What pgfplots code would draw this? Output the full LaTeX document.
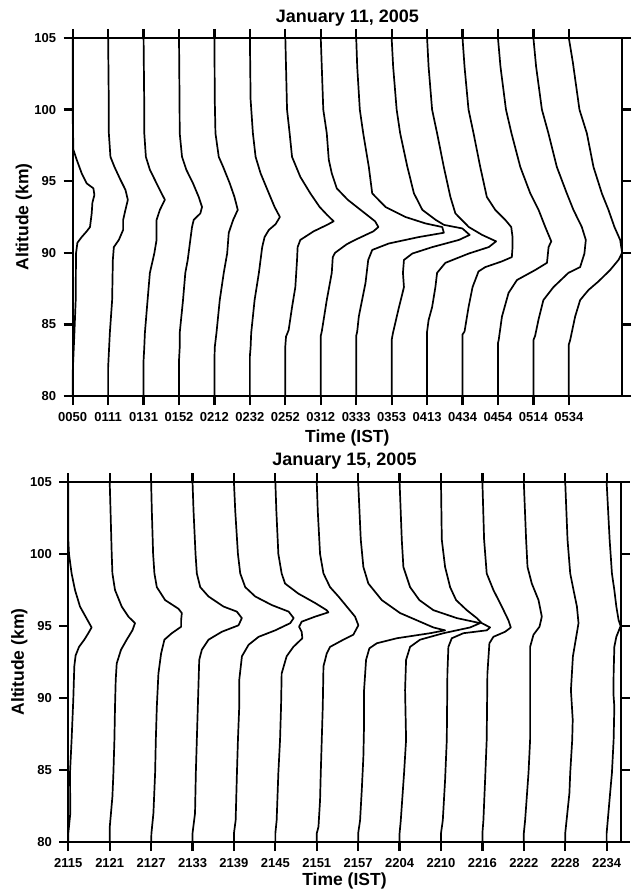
\documentclass[border=0pt]{standalone}
\usepackage{fontspec}
\setmainfont{Liberation Sans}
\usepackage{pgfplots}
\pgfplotsset{compat=1.18}
\def\sa{35.43}
\def\sb{41.4}
\pgfplotsset{
  prof/.style={black, line width=1.7pt, line join=round, mark=none},
  panel/.style={
    scale only axis, anchor=south west,
    ymin=80, ymax=105, ytick={80,85,...,105},
    tick align=outside, major tick length=9pt,
    xtick pos=both, ytick pos=both, xticklabel pos=lower, yticklabel pos=left,
    axis line style={line width=2.2pt},
    tick style={black, line width=2.2pt},
    tick label style={font=\bfseries\fontsize{13}{15}\selectfont},
    xticklabel style={inner sep=1pt, yshift=-6pt},
    yticklabel style={xshift=-4pt},
    /pgf/number format/assume math mode=true,
    label style={font=\bfseries\fontsize{17.5}{20}\selectfont, inner sep=1pt},
    title style={font=\bfseries\fontsize{18}{20}\selectfont, anchor=center, yshift=-6pt, inner sep=1pt},
    clip=false,
  }
}
\begin{document}
\begin{tikzpicture}
\path[use as bounding box] (0,0) rectangle (636pt,-893pt);
% ---------------- January 11, 2005 ----------------
\begin{axis}[panel, at={(72.7pt,-396pt)}, width=549.3pt, height=358pt,
  xmin=0, xmax=15.5, xtick={0,...,14},
  xticklabels={0050,0111,0131,0152,0212,0232,0252,0312,0333,0353,0413,0434,0454,0514,0534},
  title={January 11, 2005}, title style={at={(axis description cs:0.5,1.0545)}},
  xlabel={Time (IST)}, xlabel style={at={(axis description cs:0.5,-0.117)}, anchor=center},
  ylabel={Altitude (km)}, ylabel style={at={(axis description cs:-0.089,0.5)}, anchor=center},
]
\addplot[prof] table[header=false,row sep=\\,x expr=\thisrowno{0}/\sa+0,y index=1]{
0 80\\ 0 81.6\\ 1.7 84.4\\ 3 86.7\\ 3.3 89.95\\ 4.7 90.7\\ 9 91.1\\ 14 91.5\\ 17.3 91.8\\ 19 92.75\\ 19.7 93.5\\ 21.7 94.04\\ 20.7 94.5\\ 14 94.85\\ 9 95.55\\ 4 96.5\\ 0.7 97.2\\ 0 99.5\\ 0 105\\};
\addplot[prof] table[header=false,row sep=\\,x expr=\thisrowno{0}/\sa+1,y index=1]{
0 80\\ 0 82\\ 0.7 83\\ 1.7 84.4\\ 4 86.7\\ 4.7 89.5\\ 5.7 90.4\\ 10.7 90.9\\ 15 91.6\\ 15 92.3\\ 17.3 93.0\\ 19.7 93.7\\ 17.3 94.4\\ 12.3 95.1\\ 6.3 96.0\\ 2.3 96.7\\ 0.7 98.35\\ 0.7 100\\ 0 105\\};
\addplot[prof] table[header=false,row sep=\\,x expr=\thisrowno{0}/\sa+2,y index=1]{
0 80\\ 0 82.5\\ 0.7 83.4\\ 1.3 84.4\\ 4 86.7\\ 6.3 88.6\\ 10.7 89.95\\ 13 90.9\\ 13 92.3\\ 16.3 93.0\\ 21.3 93.7\\ 18 94.15\\ 13 94.85\\ 6.3 95.8\\ 2.3 96.7\\ 0.7 98.35\\ 0.7 100\\ 0 105\\};
\addplot[prof] table[header=false,row sep=\\,x expr=\thisrowno{0}/\sa+3,y index=1]{
0 80\\ 0 82.5\\ 0.7 83.4\\ 0.7 84.4\\ 4 86.7\\ 6.3 88.6\\ 8.7 89.5\\ 11.3 90.9\\ 13 91.8\\ 14.7 92.3\\ 21.3 92.75\\ 23 93.2\\ 19.7 93.9\\ 14 94.85\\ 7.3 95.8\\ 3 96.7\\ 0.7 98.35\\ 0.5 100.7\\ 0 105\\};
\addplot[prof] table[header=false,row sep=\\,x expr=\thisrowno{0}/\sa+4,y index=1]{
0 80\\ 0 82.5\\ 0.3 83.4\\ 2 84.4\\ 5.3 86.7\\ 9.3 88.6\\ 12.7 89.95\\ 14.3 91.4\\ 18.7 92.3\\ 23.3 93.0\\ 20 93.9\\ 15.3 94.85\\ 8.7 96.0\\ 4.3 96.7\\ 1 98.35\\ 0.3 100.7\\ 0 105\\};
\addplot[prof] table[header=false,row sep=\\,x expr=\thisrowno{0}/\sa+5,y index=1]{
0 80\\ 0 82.8\\ 0.7 83.4\\ 1.3 84.4\\ 3 85.55\\ 4.7 86.7\\ 9 88.6\\ 12.3 90.4\\ 14.7 91.1\\ 19 91.6\\ 25.7 92.0\\ 30 92.5\\ 24.7 93.2\\ 19 94.15\\ 10.7 95.55\\ 5.7 96.7\\ 3 98.35\\ 0.7 100.7\\ 0 105\\};
\addplot[prof] table[header=false,row sep=\\,x expr=\thisrowno{0}/\sa+6,y index=1]{
0 80\\ 0 83.5\\ 0.7 84.15\\ 3.3 84.6\\ 6.7 86.2\\ 10 87.6\\ 11.7 89.5\\ 12.3 90.4\\ 15 90.9\\ 28.3 91.5\\ 41.7 91.95\\ 48.3 92.2\\ 41.7 92.65\\ 34.3 93.2\\ 25 94.15\\ 15 95.3\\ 6.7 96.7\\ 4.3 98.35\\ 1.7 100\\ 0 105\\};
\addplot[prof] table[header=false,row sep=\\,x expr=\thisrowno{0}/\sa+7,y index=1]{
0 80\\ 0 84.2\\ 1 84.5\\ 6 86.7\\ 11 88.6\\ 12 89.7\\ 14.3 90.0\\ 26 90.6\\ 34.3 90.9\\ 52.6 91.5\\ 57.6 91.8\\ 54.3 92.2\\ 44.3 92.75\\ 27 93.7\\ 16 94.5\\ 11 95.55\\ 8 96.5\\ 6 98.35\\ 2.5 100\\ 0 105\\};
\addplot[prof] table[header=false,row sep=\\,x expr=\thisrowno{0}/\sa+8,y index=1]{
0 80\\ 0 84.2\\ 1 84.5\\ 2.6 85.55\\ 9.3 87.9\\ 12 89.5\\ 16 90.2\\ 32.6 90.65\\ 62.6 91.1\\ 87.6 91.4\\ 86 91.8\\ 69.3 92.05\\ 49.3 92.5\\ 29.3 93.2\\ 16 94.15\\ 12.6 96.0\\ 7 98.35\\ 3.6 100\\ 1 103\\ 0 105\\};
\addplot[prof] table[header=false,row sep=\\,x expr=\thisrowno{0}/\sa+9,y index=1]{
0 80\\ 0 83.9\\ 1.3 84.4\\ 7.3 86.2\\ 12.3 87.6\\ 11.3 88.6\\ 12.3 89.5\\ 20.7 89.95\\ 40.7 90.4\\ 67.3 90.9\\ 78 91.25\\ 70.7 91.7\\ 52.3 91.95\\ 44 92.3\\ 30.7 93.0\\ 22.3 94.15\\ 15.7 96.0\\ 8.5 98.35\\ 5 100\\ 1.5 103\\ 0 105\\};
\addplot[prof] table[header=false,row sep=\\,x expr=\thisrowno{0}/\sa+10,y index=1]{
0 80\\ 0 84.5\\ 1.5 85.3\\ 5 86.2\\ 8.3 87.6\\ 10 88.6\\ 18.3 89.3\\ 41.7 89.95\\ 61.7 90.4\\ 69 90.8\\ 55 91.25\\ 41.7 91.8\\ 28.3 92.75\\ 23.3 93.9\\ 16.7 96.0\\ 10 98.35\\ 5 100\\ 1.5 103\\ 0 105\\};
\addplot[prof] table[header=false,row sep=\\,x expr=\thisrowno{0}/\sa+11,y index=1]{
0 80\\ 0 84.3\\ 2 84.5\\ 6 86.2\\ 10 87.6\\ 16 88.7\\ 22.7 89.0\\ 39.3 89.4\\ 49.3 89.7\\ 50 90.4\\ 50 91.1\\ 48.7 91.8\\ 42.7 92.3\\ 32.7 93.0\\ 24.3 93.9\\ 17.7 96.0\\ 11 98.35\\ 6 100\\ 2 103\\ 0 105\\};
\addplot[prof] table[header=false,row sep=\\,x expr=\thisrowno{0}/\sa+12,y index=1]{
0 80\\ 0 83.7\\ 0.7 83.9\\ 4 85.55\\ 10.6 87.2\\ 19 88.1\\ 37.3 88.8\\ 49 89.3\\ 50.6 90.4\\ 53.3 90.8\\ 47.3 91.8\\ 40.6 93.0\\ 32.3 94.15\\ 22.3 96.0\\ 13.5 98.35\\ 8 100\\ 2.5 103\\ 0 105\\};
\addplot[prof] table[header=false,row sep=\\,x expr=\thisrowno{0}/\sa+13,y index=1]{
0 80\\ 0 83.9\\ 1.7 84.2\\ 5 85.3\\ 10 86.7\\ 20 87.6\\ 35 88.6\\ 46.7 89.0\\ 51 89.95\\ 52.4 90.9\\ 48.4 91.8\\ 40 93.0\\ 33.4 94.15\\ 23.4 96.0\\ 15 98.35\\ 8.5 100\\ 2.7 103\\ 0 105\\};
\addplot[prof] table[header=false,row sep=\\,x expr=\thisrowno{0}/\sa+14,y index=1]{
0 80\\ 0 83.6\\ 1.3 83.9\\ 6.3 85.55\\ 11.3 86.7\\ 19.6 87.4\\ 29.6 88.0\\ 41.3 88.8\\ 49.6 89.5\\ 53.3 90.0\\ 51.3 90.9\\ 45.6 91.8\\ 39.6 93.0\\ 33 94.15\\ 24.6 96.0\\ 18 98.35\\ 10.6 100\\ 4 103.3\\ 0 105\\};
\end{axis}
% ---------------- January 15, 2005 ----------------
\begin{axis}[panel, at={(68.3pt,-842pt)}, width=552.4pt, height=360pt,
  xmin=0, xmax=13.34, xtick={0,...,13},
  xticklabels={2115,2121,2127,2133,2139,2145,2151,2157,2204,2210,2216,2222,2228,2234},
  title={January 15, 2005}, title style={at={(axis description cs:0.5,1.0583)}},
  xlabel={Time (IST)}, xlabel style={at={(axis description cs:0.5,-0.1086)}, anchor=center},
  ylabel={Altitude (km)}, ylabel style={at={(axis description cs:-0.0887,0.5)}, anchor=center},
]
\addplot[prof] table[header=false,row sep=\\,x expr=\thisrowno{0}/\sb+0,y index=1]{
0 80\\ 0 80.6\\ 2 82\\ 1.7 84.8\\ 3.3 87.1\\ 5 89.9\\ 6 92.2\\ 7.3 92.95\\ 10.7 93.55\\ 16 94.05\\ 20 94.5\\ 23.3 94.9\\ 19.3 95.4\\ 11.7 96.35\\ 6.7 97.5\\ 3.3 98.65\\ 0.7 100\\ 0 101\\ 0 105\\};
\addplot[prof] table[header=false,row sep=\\,x expr=\thisrowno{0}/\sb+1,y index=1]{
0 80\\ 0 81\\ 2.7 83.15\\ 3.7 84.8\\ 4.7 87.1\\ 5.3 89.4\\ 6 91.25\\ 7 92.4\\ 11.3 93.35\\ 17 94.05\\ 22.7 94.7\\ 25.3 95.2\\ 18.7 95.65\\ 12 96.35\\ 5.3 97.5\\ 2.7 98.65\\ 2 100\\ 0.7 103.3\\ 0 105\\};
\addplot[prof] table[header=false,row sep=\\,x expr=\thisrowno{0}/\sb+2,y index=1]{
0 80\\ 0.3 80.6\\ 2.3 82\\ 4 84.8\\ 4.7 87.1\\ 5.7 89.4\\ 7.3 91.7\\ 10 93.1\\ 13.3 94.05\\ 20.7 94.5\\ 30 94.95\\ 30 95.4\\ 30.7 95.9\\ 27.3 96.2\\ 14 96.8\\ 5.7 97.7\\ 3.3 98.65\\ 2 100\\ 0.7 103\\ 0 105\\};
\addplot[prof] table[header=false,row sep=\\,x expr=\thisrowno{0}/\sb+3,y index=1]{
0 80\\ 0 80.6\\ 2.5 82\\ 3.3 84.8\\ 4.3 87.1\\ 5.3 89.4\\ 6.7 92.65\\ 9.3 93.35\\ 16 94.05\\ 29.3 94.6\\ 46 95.05\\ 49.3 95.55\\ 44.3 96.0\\ 31 96.35\\ 16 97.05\\ 7.7 97.7\\ 4.3 98.65\\ 3 100\\ 1 103\\ 0 105\\};
\addplot[prof] table[header=false,row sep=\\,x expr=\thisrowno{0}/\sb+4,y index=1]{
0 80\\ 0 80.6\\ 1.7 81.5\\ 3 84.8\\ 4 87.1\\ 5.3 89.4\\ 5.3 91.25\\ 8 92.9\\ 14.7 93.7\\ 24.7 94.25\\ 41.3 94.7\\ 56.3 95.2\\ 59.7 95.55\\ 54.7 96.0\\ 38 96.45\\ 21.3 97.05\\ 11.3 97.7\\ 6.3 98.65\\ 4 100\\ 1.3 103\\ 0 105\\};
\addplot[prof] table[header=false,row sep=\\,x expr=\thisrowno{0}/\sb+5,y index=1]{
0 80\\ 0 80.6\\ 1.3 81.5\\ 3 84.8\\ 4.7 87.1\\ 5.7 89.4\\ 6.3 91.7\\ 11.3 92.9\\ 18 93.55\\ 27 94.15\\ 26.3 94.6\\ 23.7 94.95\\ 26.3 95.3\\ 39.7 95.65\\ 53 95.95\\ 51.3 96.1\\ 39.7 96.6\\ 23 97.25\\ 9.7 97.95\\ 6.3 98.65\\ 3 100\\ 1 103\\ 0 105\\};
\addplot[prof] table[header=false,row sep=\\,x expr=\thisrowno{0}/\sb+6,y index=1]{
0 80\\ 0 80.6\\ 1.7 81.05\\ 3.3 82.9\\ 4 84.8\\ 5 87.1\\ 6 89.4\\ 6.7 92.2\\ 10 93.1\\ 13.3 93.55\\ 26.6 94.05\\ 36.6 94.4\\ 41.6 95.05\\ 38.3 95.65\\ 30 96.35\\ 21.7 97.05\\ 13.3 97.7\\ 6.7 98.65\\ 3.3 100\\ 1 103\\ 0 105\\};
\addplot[prof] table[header=false,row sep=\\,x expr=\thisrowno{0}/\sb+7,y index=1]{
0 80\\ 0 80.6\\ 1.9 81.5\\ 3.6 83.6\\ 5.2 85.9\\ 5.9 88.25\\ 5.9 90.55\\ 7.9 92.65\\ 11.2 93.45\\ 18.6 93.8\\ 38.6 94.15\\ 71.9 94.5\\ 86.9 94.7\\ 75.2 94.9\\ 61.9 95.3\\ 41.9 95.9\\ 23.6 96.8\\ 10.2 97.95\\ 5.2 99.1\\ 2.6 101\\ 0 105\\};
\addplot[prof] table[header=false,row sep=\\,x expr=\thisrowno{0}/\sb+8,y index=1]{
0 80\\ 0 80.6\\ 1.2 81.5\\ 4.5 84.8\\ 6.5 87.1\\ 5.5 90.55\\ 6.5 92.65\\ 10.5 93.55\\ 20.5 94.05\\ 43.8 94.5\\ 70.5 94.9\\ 80.5 95.2\\ 57.2 95.55\\ 33.8 96.1\\ 19.8 96.8\\ 10.5 97.7\\ 3.8 99.1\\ 2.2 101\\ 0 105\\};
\addplot[prof] table[header=false,row sep=\\,x expr=\thisrowno{0}/\sb+9,y index=1]{
0 80\\ 0 80.6\\ 1.8 81.5\\ 4.1 84.3\\ 5.8 87.1\\ 6.4 91.7\\ 7.4 93.55\\ 10.8 94.15\\ 22.4 94.5\\ 45.8 94.7\\ 49.1 94.9\\ 40.8 95.2\\ 35.8 95.55\\ 25.8 96.1\\ 15.1 96.8\\ 9.1 97.7\\ 4.1 99.1\\ 0.8 101\\ 0 105\\};
\addplot[prof] table[header=false,row sep=\\,x expr=\thisrowno{0}/\sb+10,y index=1]{
0 80\\ 0 80.6\\ 1 81.5\\ 2.7 84.3\\ 4.3 87.1\\ 5 91.7\\ 7 93.8\\ 11 94.25\\ 22.7 94.6\\ 28.4 94.9\\ 26 95.4\\ 19.4 96.35\\ 11 97.5\\ 4.3 98.65\\ 1.7 101\\ 0 105\\};
\addplot[prof] table[header=false,row sep=\\,x expr=\thisrowno{0}/\sb+11,y index=1]{
0 80\\ 0 80.6\\ 1.3 81.5\\ 4.7 84.8\\ 6.3 87.1\\ 6.3 90.55\\ 6.3 93.55\\ 9.7 94.4\\ 15.7 94.95\\ 18 95.65\\ 14.7 96.8\\ 8 97.95\\ 3.7 99.1\\ 2.3 101\\ 0 105\\};
\addplot[prof] table[header=false,row sep=\\,x expr=\thisrowno{0}/\sb+12,y index=1]{
0 80\\ 0 80.6\\ 4.2 83.4\\ 5 84.8\\ 7 87.1\\ 7.5 88.5\\ 5.7 90.55\\ 7.7 92.9\\ 11 94.25\\ 13.3 95.2\\ 11.7 96.35\\ 8.3 97.5\\ 5 98.65\\ 2.3 101\\ 0 105\\};
\addplot[prof] table[header=false,row sep=\\,x expr=\thisrowno{0}/\sb+13,y index=1]{
0 80\\ 0 80.6\\ 3.5 83.4\\ 5.3 84.8\\ 7 87.1\\ 7.7 89.4\\ 6.8 90.3\\ 7 91.7\\ 7.7 93.55\\ 9.7 94.25\\ 14 95.0\\ 12 95.4\\ 9.7 96.35\\ 7.7 97.5\\ 5.3 98.65\\ 3 101\\ 0 105\\};
\end{axis}
\end{tikzpicture}
\end{document}
